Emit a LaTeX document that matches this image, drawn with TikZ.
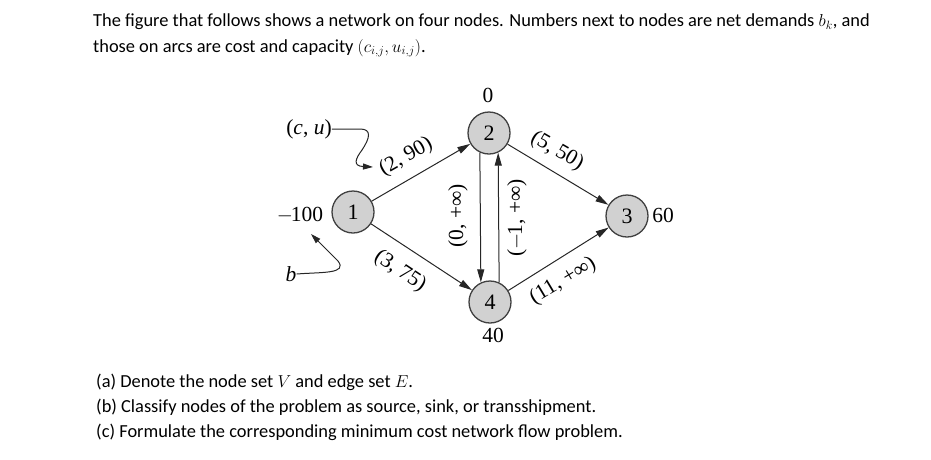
\documentclass[tikz,border=0pt]{standalone}
\usepackage{fontspec}
\setmainfont{Carlito}
\newfontfamily\tnr{Liberation Serif}
\usetikzlibrary{arrows.meta}
\begin{document}
\begin{tikzpicture}[x=1pt,y=-1pt,
  netnode/.style={circle,draw=black!75,line width=1.3pt,fill=black!18,minimum size=42pt,inner sep=0pt,font=\tnr\fontsize{22}{22}\selectfont},
  arr/.style={line width=1pt,draw=black!85,-{Triangle[length=13pt,width=7pt]}},
  lab/.style={font=\tnr\fontsize{21.5}{21.5}\selectfont,inner sep=0pt},
  body/.style={font=\fontsize{18.4}{22}\selectfont,anchor=west,inner sep=0pt}]
\path[use as bounding box] (0,0) rectangle (931,459);
\node[body] (t1) at (93,22) {The figure that follows shows a network on four nodes. Numbers next to nodes are net demands $b_k$, and};
\node[body] (t2) at (93,48) {those on arcs are cost and capacity $(c_{i,j}, u_{i,j})$.};
\node[body] (qa) at (96,382) {(a) Denote the node set $V$ and edge set $E$.};
\node[body] (qb) at (96,407) {(b) Classify nodes of the problem as source, sink, or transshipment.};
\node[body] (qc) at (96,432) {(c) Formulate the corresponding minimum cost network flow problem.};

\node[netnode] (n1) at (353,212) {1};
\node[netnode] (n2) at (489,133) {2};
\node[netnode] (n3) at (627,216) {3};
\node[netnode] (n4) at (490,302) {4};

\node[lab] (d1) at (300,215) {$-$\kern-2pt100};
\node[lab] (d2) at (488,95) {0};
\node[lab] (d3) at (663,215) {60};
\node[lab] (d4) at (493,335) {40};

\draw[arr] (n1) -- (n2);
\draw[arr] (n1) -- (n4);
\draw[arr] (n2) -- (n3);
\draw[arr] (n4) -- (n3);
\draw[arr] (n2.245) -- (n4.115);
\draw[arr] (n4.65) -- (n2.295);

\node[lab,rotate=29.5] (l12) at (406,157) {(2, 90)};
\node[lab,rotate=-33.5] (l14) at (400,271) {(3, 75)};
\node[lab,rotate=-30] (l23) at (557,151) {(5, 50)};
\node[lab,rotate=31] (l43) at (563,281) {(11, +∞)};
\node[lab,rotate=90] (l24) at (458,216) {(0, +∞)};
\node[lab,rotate=90] (l42) at (517,218) {($-$\kern-2pt1, +∞)};

\node[lab] (cu) at (309,129) {(\textit{c}, \textit{u})};
\node[lab] (bb) at (291,274) {\textit{b}};
\coordinate (cuend) at (373,167);
\coordinate (bend) at (311,234);
\draw[arr,-{Triangle[length=10pt,width=6pt]}] (cu.east) -- (360,129) .. controls (372,129) and (370,138) .. (362,150) .. controls (356,158) and (352,166) .. (cuend);
\draw[arr,-{Triangle[length=10pt,width=6pt]}] (bb.east) .. controls (322,272) and (348,274) .. (338,261) -- (bend);
\end{tikzpicture}
\end{document}
